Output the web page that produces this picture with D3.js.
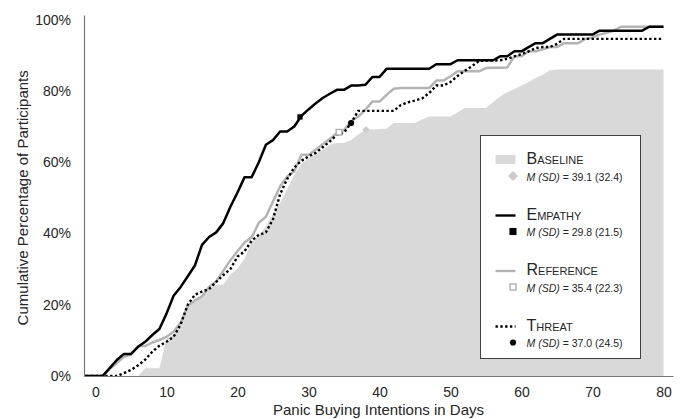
<!DOCTYPE html>
<html>
<head>
<meta charset="utf-8">
<script src="https://cdn.jsdelivr.net/npm/d3@7"></script>
<style>
  body { margin: 0; background: #fff; }
  #chart { width: 683px; height: 419px; }
  text { font-family: "Liberation Sans", Arial, sans-serif; }
</style>
</head>
<body>
<div id="chart"></div>
<script>
// Days on the x axis (one point per day)
const lineDays = d3.range(-2, 81);      // -2 .. 80
const baselineDays = d3.range(-2, 83);  // -2 .. 82

// Cumulative percentage of participants
const empathy = [0, 0, 0, 0, 2.2, 4.5, 6.2, 6.2, 8.2, 9.6, 11.5, 13.2, 17.5, 22.5, 25, 28, 31, 36.8, 39, 40.3,
  42.9, 47.5, 51.5, 55.8, 55.8, 60, 64.9, 66.2, 68.6, 68.6, 70, 73, 74.8, 76.5, 78, 79.2, 80.3, 80.3, 81.5, 81.5,
  81.7, 83.9, 83.9, 86.2, 86.2, 86.2, 86.2, 86.2, 86.2, 86.2, 87.5, 87.5, 87.5, 88.6, 88.6, 88.6, 88.6, 88.6, 88.6,
  89.7, 89.7, 91.1, 91.1, 92.3, 93.4, 93.4, 94.6, 95.8, 95.8, 95.8, 95.8, 95.8, 95.8, 96.9, 96.9, 96.9, 96.9, 96.9,
  96.9, 96.9, 98, 98, 98];

const reference = [0, 0, 0, 0, 2, 3.6, 5.4, 6, 8.4, 8.4, 9.4, 10.1, 11, 12.4, 15, 19.7, 21.2, 22.3, 25, 26.5,
  29.5, 32.5, 35, 37.5, 38.9, 43, 44.7, 49, 53.2, 56, 57.4, 62.1, 62.1, 63.5, 65, 66.5, 68.2, 69, 71.5, 72.8,
  74.7, 77, 77, 78.9, 80.6, 80.8, 80.8, 80.8, 80.8, 80.8, 82.9, 82.9, 84.1, 85.5, 85.5, 85.5, 85.5, 86.4, 86.5,
  86.5, 86.6, 89.7, 89.7, 91.1, 91.1, 91.7, 92.3, 92.3, 93.4, 93.4, 93.4, 94.6, 95, 95.8, 96.3, 96.9, 98, 98,
  98, 98, 98, 98, 98];

const threat = [0, 0, 0, 0, 0, 0, 0.8, 1.7, 3, 4.6, 6.8, 8.5, 9.6, 11, 14.5, 20, 22.8, 23.7, 24.4, 26.4,
  28.3, 30, 33.5, 35, 38, 39.6, 40.3, 44, 51, 55.3, 58.5, 60.4, 61.6, 62.6, 64.2, 65.8, 67.7, 68.3, 71, 74.4,
  74.4, 74.4, 74.4, 74.4, 74.4, 76, 76.8, 77.3, 77.9, 79.4, 81.5, 81.5, 82.5, 84.2, 85.6, 86.9, 88.4, 88.5, 88.5,
  88.6, 89, 89.7, 90.3, 91.1, 92, 92.3, 92.3, 93.2, 94.6, 94.6, 94.6, 94.6, 94.6, 94.6, 94.6, 94.6, 94.6, 94.6,
  94.6, 94.6, 94.6, 94.6, 94.6];

const baseline = [0, 0, 0, 0, 0, 0, 0, 0, 0, 2.2, 2.2, 2.2, 10.5, 11.5, 14.5, 19.5, 21.5, 22.8, 24.2, 25.6,
  25.6, 28.5, 30.2, 33, 37.5, 39.3, 42, 45.5, 48.5, 52.5, 56.5, 59.5, 61.1, 62.3, 63.5, 64.9, 65.4, 65.4, 66.2,
  67.8, 69, 69.2, 69.3, 69.4, 71, 71, 71, 71, 72, 72.8, 72.8, 72.8, 72.8, 74, 75.2, 75.2, 75.2, 75.2, 76.8, 78.5,
  79.6, 80.5, 81.5, 82.5, 83.6, 84.5, 85.8, 86, 86, 86, 86, 86, 86, 86, 86, 86, 86, 86, 86, 86, 86, 86, 86];

// Group means marked on each curve (position)
const groupNames = ["Baseline", "Empathy", "Reference", "Threat"];
const groupMeans = ["39.1", "29.8", "35.4", "37.0"];
const groupSDs = ["32.4", "21.5", "22.3", "24.5"];
const markerDays = [38.1, 28.8, 34.3, 36.0];
const markerPcts = [69.1, 72.7, 68.4, 71.0];

// Tick labels
const xTicks = [0, 10, 20, 30, 40, 50, 60, 70, 80];
const yTicks = [0, 20, 40, 60, 80, 100];

function createChart() {
    const width = 683;
    const height = 419;
    const font = "'Liberation Sans', Arial, sans-serif";

    const svg = d3.select("#chart").append("svg")
        .attr("width", width)
        .attr("height", height);

    // Scales
    const x = d3.scaleLinear().domain([-1.62, 81.34]).range([84, 673]);
    const y = d3.scaleLinear().domain([0, 101.3]).range([376, 15]);

    // Clip to the plot area
    svg.append("clipPath")
        .attr("id", "plot-clip")
        .append("rect")
        .attr("x", x.range()[0])
        .attr("y", 0)
        .attr("width", x.range()[1] - x.range()[0])
        .attr("height", y.range()[0]);

    const plot = svg.append("g").attr("clip-path", "url(#plot-clip)");

    // Baseline as grey area
    const area = d3.area()
        .x((d, i) => x(baselineDays[i]))
        .y0(y(0))
        .y1(d => y(d));

    plot.append("path")
        .datum(baseline)
        .attr("d", area)
        .attr("fill", "#d9d9d9");

    const line = d3.line()
        .x((d, i) => x(lineDays[i]))
        .y(d => y(d));

    // Reference (grey), threat (dotted), empathy (black)
    plot.append("path")
        .datum(reference)
        .attr("d", line)
        .attr("fill", "none")
        .attr("stroke", "#b4b4b4")
        .attr("stroke-width", 2.5)
        .attr("stroke-linejoin", "round");

    plot.append("path")
        .datum(threat)
        .attr("d", line)
        .attr("fill", "none")
        .attr("stroke", "#000")
        .attr("stroke-width", 2.4)
        .attr("stroke-dasharray", "2.4,2.4");

    plot.append("path")
        .datum(empathy)
        .attr("d", line)
        .attr("fill", "none")
        .attr("stroke", "#000")
        .attr("stroke-width", 2.5)
        .attr("stroke-linejoin", "round");

    // Markers for the means
    const symbols = [
        { type: d3.symbolDiamond2, size: 36, fill: "#cccccc", stroke: "none" },
        { type: d3.symbolSquare2, size: 36, fill: "#000", stroke: "none" },
        { type: d3.symbolSquare2, size: 40, fill: "#fff", stroke: "#b4b4b4" },
        { type: d3.symbolCircle, size: 30, fill: "#000", stroke: "none" }
    ];

    svg.selectAll("path.mean-marker")
        .data(markerDays)
        .join("path")
        .attr("class", "mean-marker")
        .attr("transform", (d, i) => `translate(${x(d)},${y(markerPcts[i])})`)
        .attr("d", (d, i) => d3.symbol().type(symbols[i].type).size(symbols[i].size)())
        .attr("fill", (d, i) => symbols[i].fill)
        .attr("stroke", (d, i) => symbols[i].stroke)
        .attr("stroke-width", 1.5);

    // Axes
    const xAxis = svg.append("g")
        .attr("transform", `translate(0,${y(0)})`)
        .call(d3.axisBottom(x).tickValues(xTicks).tickSize(0).tickPadding(11.5));

    const yAxis = svg.append("g")
        .attr("transform", `translate(${x.range()[0]},0)`)
        .call(d3.axisLeft(y).tickValues(yTicks).tickFormat(d => d + "%").tickSize(0).tickPadding(13));

    [xAxis, yAxis].forEach(g => {
        g.select(".domain").attr("stroke", "#777").attr("stroke-width", 1.2);
        g.selectAll("text")
            .attr("font-family", font)
            .attr("font-size", "14px")
            .attr("fill", "#262626");
    });

    // Axis titles
    svg.append("text")
        .attr("x", (x.range()[0] + x.range()[1]) / 2)
        .attr("y", 415)
        .attr("text-anchor", "middle")
        .attr("font-size", "15px")
        .attr("fill", "#262626")
        .text("Panic Buying Intentions in Days");

    svg.append("text")
        .attr("transform", `translate(28,${(y(0) + y(100)) / 2}) rotate(-90)`)
        .attr("text-anchor", "middle")
        .attr("font-size", "15px")
        .attr("fill", "#262626")
        .text("Cumulative Percentage of Participants");

    // Legend
    const legend = svg.append("g").attr("transform", "translate(480.5,135.5)");

    legend.append("rect")
        .attr("width", 160)
        .attr("height", 223)
        .attr("fill", "#fff")
        .attr("stroke", "#404040")
        .attr("stroke-width", 1);

    const items = legend.selectAll("g.item")
        .data(groupNames)
        .join("g")
        .attr("class", "item")
        .attr("transform", (d, i) => `translate(0,${28.5 + i * 55.5})`);

    // Series swatches
    items.each(function (d, i) {
        const g = d3.select(this);
        if (i === 0) {
            g.append("rect")
                .attr("x", 15).attr("y", -9)
                .attr("width", 20).attr("height", 9)
                .attr("fill", "#d9d9d9");
        } else {
            g.append("line")
                .attr("x1", 15).attr("x2", 35)
                .attr("y1", -4).attr("y2", -4)
                .attr("stroke", i === 2 ? "#b4b4b4" : "#000")
                .attr("stroke-width", 2.4)
                .attr("stroke-dasharray", i === 3 ? "2.4,2.4" : null);
        }
    });

    items.append("text")
        .attr("x", 46)
        .attr("y", 0)
        .attr("font-size", "16px")
        .attr("font-variant", "small-caps")
        .attr("fill", "#262626")
        .text(d => d);

    const legendSymbols = [
        { type: d3.symbolDiamond2, size: 64 },
        { type: d3.symbolSquare2, size: 64 },
        { type: d3.symbolSquare2, size: 44 },
        { type: d3.symbolCircle, size: 30 }
    ];

    items.append("path")
        .attr("transform", "translate(32.5,12)")
        .attr("d", (d, i) => d3.symbol().type(legendSymbols[i].type).size(legendSymbols[i].size)())
        .attr("fill", (d, i) => symbols[i].fill)
        .attr("stroke", (d, i) => symbols[i].stroke)
        .attr("stroke-width", 1.5);

    const stat = items.append("text")
        .attr("x", 46)
        .attr("y", 16.5)
        .attr("font-size", "10.5px")
        .attr("fill", "#262626");

    stat.append("tspan")
        .attr("font-style", "italic")
        .text("M (SD)");

    stat.append("tspan")
        .text((d, i) => ` = ${groupMeans[i]} (${groupSDs[i]})`);
}

createChart();
</script>
</body>
</html>
